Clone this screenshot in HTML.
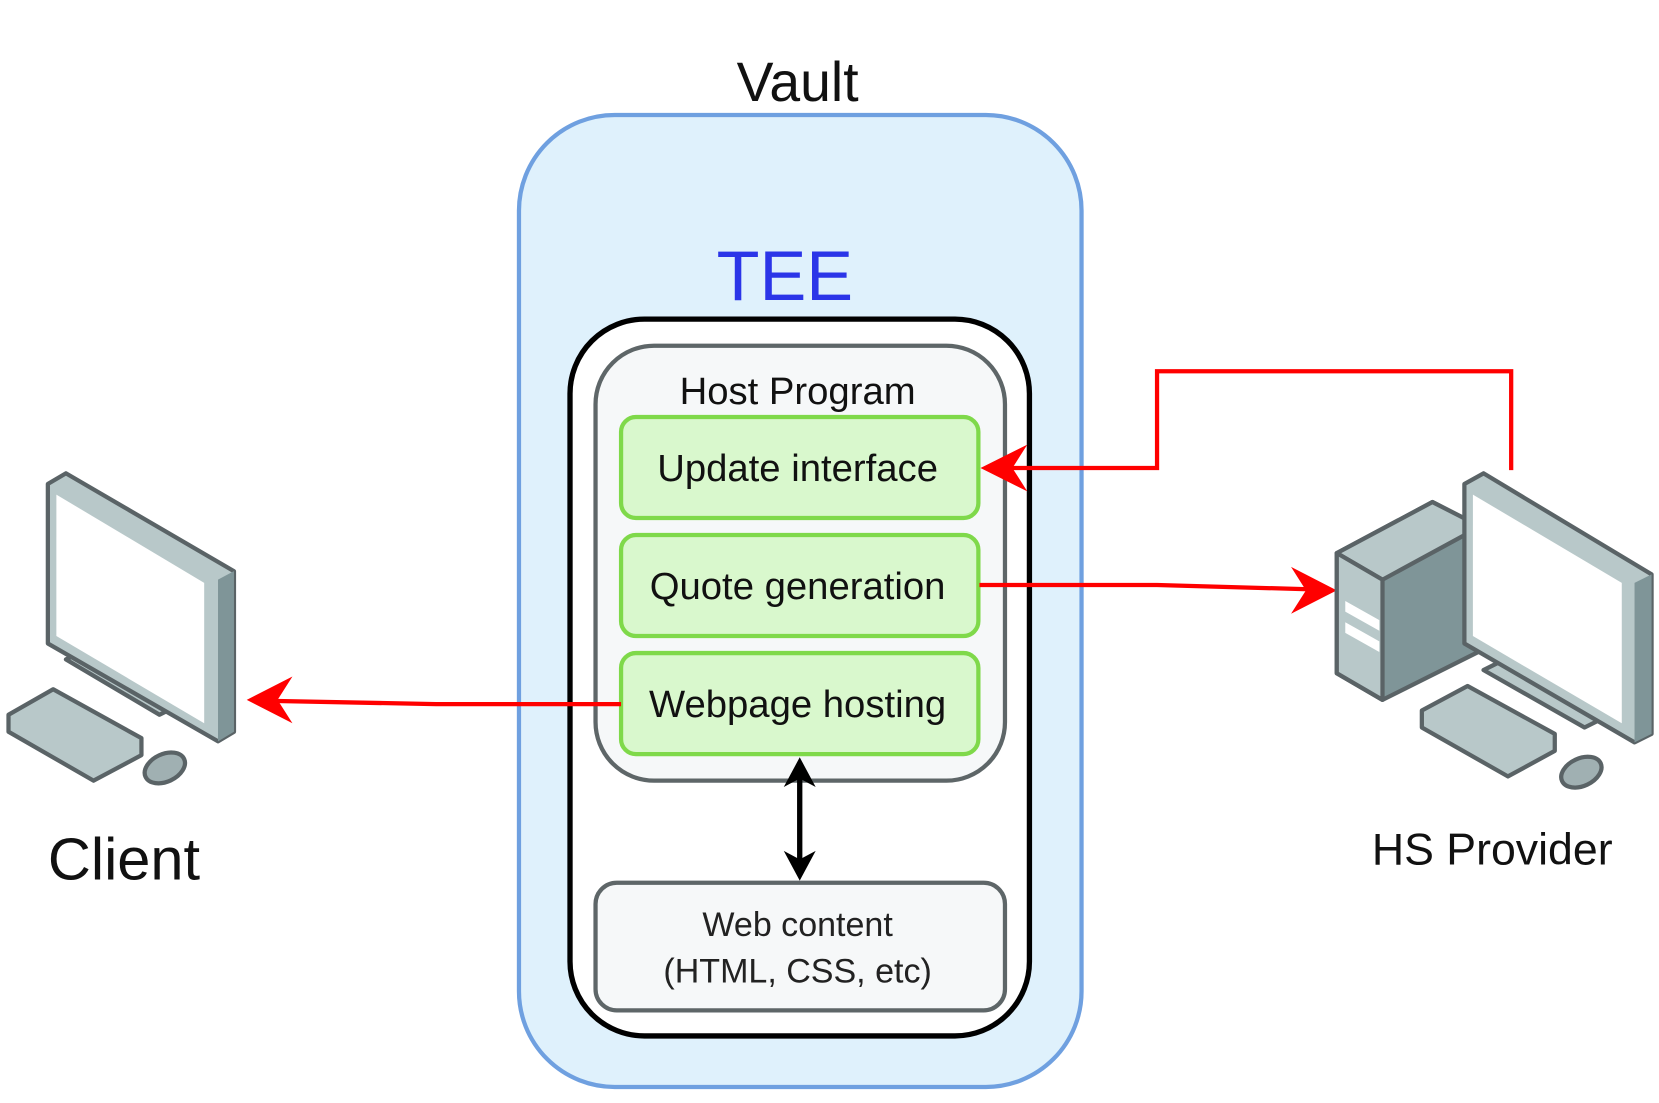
<!DOCTYPE html>
<html><head><meta charset="utf-8"><style>html,body{margin:0;padding:0;background:#fff}svg{display:block}text{font-family:"Liberation Sans",Arial,sans-serif}</style></head><body>
<svg width="1659" height="1103" viewBox="0 0 1560 1037" xmlns="http://www.w3.org/2000/svg">
<rect width="1560" height="1037" fill="#fff"/>
<text x="750" y="95" font-size="52" text-anchor="middle" fill="#111">Vault</text>
<rect x="488" y="108" width="529" height="914" rx="90" fill="#dff1fc" stroke="#6fa0e0" stroke-width="4"/>
<text x="738" y="282" font-size="66" text-anchor="middle" fill="#2b35e8">TEE</text>
<rect x="536" y="300" width="432" height="674" rx="70" fill="#fff" stroke="#000" stroke-width="5"/>
<rect x="560" y="325" width="385" height="409" rx="55" fill="#f6f8f9" stroke="#5e6668" stroke-width="4"/>
<text x="750" y="380" font-size="36" text-anchor="middle" fill="#111">Host Program</text>
<g fill="#d9f8cd" stroke="#7fd94a" stroke-width="4">
<rect x="584" y="392" width="336" height="95" rx="14"/>
<rect x="584" y="503" width="336" height="95" rx="14"/>
<rect x="584" y="614" width="336" height="95" rx="14"/>
</g>
<g font-size="36" text-anchor="middle" fill="#111">
<text x="750" y="452">Update interface</text>
<text x="750" y="563">Quote generation</text>
<text x="750" y="674">Webpage hosting</text>
</g>
<rect x="560" y="830" width="385" height="120" rx="20" fill="#f6f8f9" stroke="#5e6668" stroke-width="4"/>
<text x="750" y="880" font-size="32" text-anchor="middle" fill="#222">Web content</text>
<text x="750" y="924" font-size="32" text-anchor="middle" fill="#222">(HTML, CSS, etc)</text>
<line x1="752" y1="730" x2="752" y2="810" stroke="#000" stroke-width="5"/>
<polygon points="752,712 737,740 752,732 767,740" fill="#000"/>
<polygon points="752,828 737,800 752,808 767,800" fill="#000"/>
<g stroke="#f00" stroke-width="4" fill="none">
<polyline points="1421,442 1421,349 1088,349 1088,440 950,440"/>
<polyline points="921,550 1088,550 1230,554"/>
<polyline points="584,662 410,662 255,659"/>
</g>
<g fill="#f00">
<polygon points="922,440 966,418 952,440 966,462"/>
<polygon points="1257,555 1214,533 1228,555 1214,577"/>
<polygon points="232,658 275,636 261,658 275,680"/>
</g>
<g stroke="#5a6366" stroke-width="4" stroke-linejoin="round">
<polygon points="62,620 150,672 170,662 82,610" fill="#b8c8c9"/>
<polygon points="8,672 50,648 133,694 133,710 88,734 8,688" fill="#b8c8c9"/>
<polygon points="45,455 62,445 220,537 220,688 205,697 45,605" fill="#b8c8c9"/>
<polygon points="205,545 220,537 220,688 205,697" fill="#7f9598" stroke="none"/>
<polygon points="53,465 192,548 192,680 53,598" fill="#fff" stroke="none"/>
<ellipse cx="155" cy="722" rx="20" ry="13" fill="#a0b0b2" transform="rotate(-25 155 722)"/>
</g>
<text x="45" y="827" font-size="56" fill="#111">Client</text>
<g stroke="#5a6366" stroke-width="4" stroke-linejoin="round">
<polygon points="1257,520 1347,472 1392,495 1392,612 1300,658 1257,633" fill="#7f9598"/>
<polygon points="1257,520 1347,472 1392,495 1300,545" fill="#b8c8c9"/>
<polygon points="1257,520 1300,545 1300,658 1257,633" fill="#b8c8c9"/>
<polygon points="1395,630 1490,684 1510,674 1415,620" fill="#b8c8c9"/>
<polygon points="1337,668 1380,645 1462,690 1462,706 1418,730 1337,684" fill="#b8c8c9"/>
<polygon points="1377,455 1395,445 1553,540 1553,690 1537,698 1377,605" fill="#b8c8c9"/>
<polygon points="1537,548 1553,540 1553,690 1537,698" fill="#7f9598" stroke="none"/>
<polygon points="1385,465 1525,548 1525,680 1385,598" fill="#fff" stroke="none"/>
<ellipse cx="1487" cy="726" rx="20" ry="13" fill="#a0b0b2" transform="rotate(-25 1487 726)"/>
</g>
<g fill="#fff"><polygon points="1265,565 1297,583 1297,593 1265,575"/><polygon points="1265,585 1297,603 1297,613 1265,595"/></g>
<text x="1290" y="813" font-size="42" fill="#111">HS Provider</text>
</svg>
</body></html>
